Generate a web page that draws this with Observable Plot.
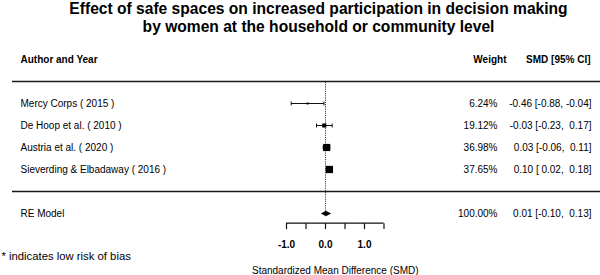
<!DOCTYPE html>
<html>
<head>
<meta charset="utf-8">
<script src="https://cdn.jsdelivr.net/npm/d3@7"></script>
<script src="https://cdn.jsdelivr.net/npm/@observablehq/plot@0.6"></script>
<style>
  html, body { margin: 0; padding: 0; background: #fff; }
</style>
</head>
<body>
<div id="chart"></div>
<script>
const titleLines = ["Effect of safe spaces on increased participation in decision making", "by women at the household or community level"];
const studies = ["Mercy Corps ( 2015 )", "De Hoop et al. ( 2010 )", "Austria et al. ( 2020 )", "Sieverding & Elbadaway ( 2016 )"];
const weights = [6.24, 19.12, 36.98, 37.65];
const smd = [-0.46, -0.03, 0.03, 0.10];
const ciLow = [-0.88, -0.23, -0.06, 0.02];
const ciHigh = [-0.04, 0.17, 0.11, 0.18];
const reLabel = "RE Model";
const reWeight = 100;
const reEst = 0.01;
const reLow = -0.10;
const reHigh = 0.13;
const xTicks = [-1, -0.5, 0, 0.5, 1, 1.5];
const xLabelTicks = [-1, 0, 1];
const xTickLabels = ["-1.0", "0.0", "1.0"];
const headers = ["Author and Year", "Weight", "SMD [95% CI]"];
const xTitle = "Standardized Mean Difference (SMD)";
const footnote = "* indicates low risk of bias";

const f2 = d3.format(".2f");
const fs = d3.format(" .2f");
const ciText = (e, lo, hi) => `${f2(e).replace("−", "-")} [${fs(lo).replace("−", "-")}, ${fs(hi).replace("−", "-")}]`;

const table = studies.map((s, i) => ({
  study: s, row: i + 1, w: weights[i], est: smd[i], lo: ciLow[i], hi: ciHigh[i]
}));
const reRow = 6;
const axisY = 6.44;
const diamond = [
  {x: reLow, y: reRow}, {x: reEst, y: reRow - 0.11}, {x: reHigh, y: reRow}, {x: reEst, y: reRow + 0.11}, {x: reLow, y: reRow}
];

const font = "'Liberation Sans', Arial, sans-serif";

const chart = Plot.plot({
  width: 600,
  height: 275,
  marginLeft: 12,
  marginRight: 0,
  marginTop: 0,
  marginBottom: 0,
  style: {fontFamily: font, fontSize: "10px", whiteSpace: "pre", background: "#fff", color: "#000"},
  x: {domain: [-1, 1.5], range: [286, 383.5], axis: null},
  y: {domain: [0, 6], range: [81, 213], axis: null},
  r: {type: "linear", domain: [6.24, 37.65], range: [1.1, 4.1]},
  marks: [
    Plot.text([titleLines.join("\n")], {frameAnchor: "top", lineAnchor: "top", dy: 1.5, dx: 12, fontSize: 15.6, fontWeight: "bold", lineHeight: 1.11, fill: "#000"}),
    Plot.text([headers[0]], {frameAnchor: "left", y: -1, dx: 8, textAnchor: "start", fontWeight: "bold"}),
    Plot.text([headers[1]], {frameAnchor: "right", y: -1, dx: -94, textAnchor: "end", fontWeight: "bold"}),
    Plot.text([headers[2]], {frameAnchor: "right", y: -1, dx: -10, textAnchor: "end", fontWeight: "bold"}),
    Plot.ruleY([0, 5], {stroke: "#1a1a1a", strokeWidth: 1.3}),
    Plot.ruleX([0], {y1: 0.05, y2: reRow, stroke: "#222", strokeDasharray: "1,1.2", strokeWidth: 1}),
    Plot.link(table, {x1: "lo", x2: "hi", y1: "row", y2: "row", stroke: "#111", strokeWidth: 1}),
    Plot.link(table, {x1: "lo", x2: "lo", y1: d => d.row - 0.09, y2: d => d.row + 0.09, stroke: "#111", strokeWidth: 1}),
    Plot.link(table, {x1: "hi", x2: "hi", y1: d => d.row - 0.09, y2: d => d.row + 0.09, stroke: "#111", strokeWidth: 1}),
    Plot.dot(table, {x: "est", y: "row", r: "w", symbol: "square", fill: "#000", stroke: "none"}),
    Plot.line(diamond, {x: "x", y: "y", fill: "#000", stroke: "#000", strokeWidth: 0.6}),
    Plot.text(table, {text: "study", y: "row", frameAnchor: "left", dx: 8, textAnchor: "start"}),
    Plot.text(table, {text: d => f2(d.w) + "%", y: "row", frameAnchor: "right", dx: -103, textAnchor: "end"}),
    Plot.text(table, {text: d => ciText(d.est, d.lo, d.hi), y: "row", frameAnchor: "right", dx: -9, textAnchor: "end"}),
    Plot.text([reLabel], {y: reRow, frameAnchor: "left", dx: 8, textAnchor: "start"}),
    Plot.text([f2(reWeight) + "%"], {y: reRow, frameAnchor: "right", dx: -103, textAnchor: "end"}),
    Plot.text([ciText(reEst, reLow, reHigh)], {y: reRow, frameAnchor: "right", dx: -9, textAnchor: "end"}),
    Plot.ruleY([axisY], {x1: xTicks[0], x2: xTicks[xTicks.length - 1], stroke: "#111", strokeWidth: 1.2}),
    Plot.link(xTicks, {x1: d => d, x2: d => d, y1: axisY, y2: axisY + 0.27, stroke: "#111", strokeWidth: 1.2}),
    Plot.text(xLabelTicks, {x: d => d, y: 7.42, text: (d, i) => xTickLabels[i], fontWeight: "bold", fontSize: 10}),
    Plot.text([xTitle], {x: 0.25, y: 8.6, fontSize: 10}),
    Plot.text([footnote], {frameAnchor: "left", dx: -11, y: 7.94, textAnchor: "start", fontSize: 11.3})
  ]
});
document.getElementById("chart").append(chart);
</script>
</body>
</html>
